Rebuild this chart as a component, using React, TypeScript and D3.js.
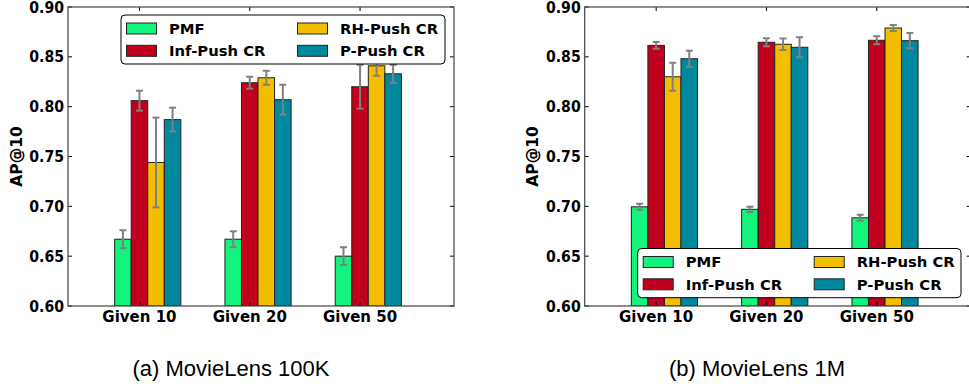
import React from "react";
import * as d3 from "d3";

const categories = ["Given 10", "Given 20", "Given 50"];
const seriesNames = ["PMF", "Inf-Push CR", "RH-Push CR", "P-Push CR"];
const seriesColors = ["#12f47c", "#c0001c", "#f4be00", "#00889f"];

// MovieLens 100K
const ml100kMeans = [
  [0.667, 0.667, 0.650],
  [0.806, 0.824, 0.820],
  [0.744, 0.829, 0.841],
  [0.787, 0.807, 0.833],
];
const ml100kErr = [
  [0.009, 0.008, 0.009],
  [0.010, 0.006, 0.022],
  [0.045, 0.007, 0.010],
  [0.012, 0.015, 0.009],
];
// MovieLens 1M
const ml1mMeans = [
  [0.6995, 0.697, 0.6885],
  [0.8615, 0.8646, 0.8666],
  [0.830, 0.8626, 0.8789],
  [0.8481, 0.8596, 0.8662],
];
const ml1mErr = [
  [0.003, 0.0027, 0.003],
  [0.0035, 0.004, 0.004],
  [0.014, 0.0057, 0.003],
  [0.008, 0.010, 0.0077],
];
const yTicks = [0.6, 0.65, 0.7, 0.75, 0.8, 0.85, 0.9];
const captions = ["(a) MovieLens 100K", "(b) MovieLens 1M"];

const BAR_W = 0.15;
const FONT = "'DejaVu Sans', sans-serif";

type PanelProps = {
  id: string;
  x0: number;
  x1: number;
  means: number[][];
  errs: number[][];
  legend: { x: number; y: number; w: number; h: number };
  ylabelX: number;
};

function Panel({ id, x0, x1, means, errs, legend, ylabelX }: PanelProps) {
  const y0 = 7;
  const y1 = 306;
  const x = d3.scaleLinear().domain([-0.423, 3.077]).range([x0, x1]);
  const y = d3.scaleLinear().domain([0.6, 0.9]).range([y1, y0]);
  const tickPos = categories.map((_, i) => i + 1.5 * BAR_W);
  const spine = "#444";
  const rowH = 22.3;
  return (
    <g>
      <defs>
        <clipPath id={`clip-${id}`}>
          <rect x={x0} y={y0} width={x1 - x0} height={y1 - y0} />
        </clipPath>
      </defs>
      <g clipPath={`url(#clip-${id})`}>
        {means.map((ser, s) =>
          ser.map((v, i) => (
            <rect
              key={`b${s}-${i}`}
              x={x(i + s * BAR_W)}
              y={y(v)}
              width={x(BAR_W) - x(0)}
              height={y(0.6) - y(v)}
              fill={seriesColors[s]}
              stroke="#222"
              strokeWidth={1}
            />
          ))
        )}
        {means.map((ser, s) =>
          ser.map((v, i) => {
            const cx = x(i + s * BAR_W + BAR_W / 2);
            const e = errs[s][i];
            return (
              <g key={`e${s}-${i}`} stroke="#808080" strokeWidth={2}>
                <line x1={cx} x2={cx} y1={y(v - e)} y2={y(v + e)} />
                <line x1={cx - 3.5} x2={cx + 3.5} y1={y(v - e)} y2={y(v - e)} />
                <line x1={cx - 3.5} x2={cx + 3.5} y1={y(v + e)} y2={y(v + e)} />
              </g>
            );
          })
        )}
      </g>
      {yTicks.map((t) => (
        <g key={`yt${t}`} stroke="#000" strokeWidth={1}>
          <line x1={x0} x2={x0 + 4} y1={y(t)} y2={y(t)} />
          <line x1={x1 - 4} x2={x1} y1={y(t)} y2={y(t)} />
        </g>
      ))}
      {tickPos.map((t, i) => (
        <g key={`xt${i}`} stroke="#000" strokeWidth={1}>
          <line x1={x(t)} x2={x(t)} y1={y1} y2={y1 - 4} />
          <line x1={x(t)} x2={x(t)} y1={y0} y2={y0 + 4} />
        </g>
      ))}
      <rect x={x0} y={y0} width={x1 - x0} height={y1 - y0} fill="none" stroke={spine} strokeWidth={1.2} />
      {yTicks.map((t) => (
        <text
          key={`yl${t}`}
          transform={`translate(${x0 - 4},${y(t) + 5.5}) scale(0.94,1)`}
          textAnchor="end"
          fontFamily={FONT}
          fontWeight="bold"
          fontSize={15}
          fill="#000"
        >
          {d3.format(".2f")(t)}
        </text>
      ))}
      {categories.map((c, i) => (
        <text key={`xl${i}`} x={x(tickPos[i])} y={322} textAnchor="middle" fontFamily={FONT} fontWeight="bold" fontSize={15} fill="#000">
          {c}
        </text>
      ))}
      <text
        transform={`translate(${ylabelX},${(y0 + y1) / 2}) rotate(-90)`}
        textAnchor="middle"
        fontFamily={FONT}
        fontWeight="bold"
        fontSize={15.5}
        fill="#000"
      >
        AP@10
      </text>
      <g>
        <rect x={legend.x} y={legend.y} width={legend.w} height={legend.h} rx={4} fill="#fff" stroke="#000" strokeWidth={1} />
        {seriesNames.map((n, s) => {
          const col = s === 0 || s === 1 ? 0 : 1;
          const row = s === 0 || s === 2 ? 0 : 1;
          const px = legend.x + 5.5 + col * 171;
          const cy = legend.y + 13.5 + row * rowH;
          return (
            <g key={`lg${s}`}>
              <rect x={px} y={cy - 5.5} width={30} height={11} fill={seriesColors[s]} stroke="#222" strokeWidth={1} />
              <text x={px + 42.5} y={cy + 5.3} fontFamily={FONT} fontWeight="bold" fontSize={14.8} fill="#000">
                {n}
              </text>
            </g>
          );
        })}
      </g>
    </g>
  );
}

export default function App() {
  return (
    <svg width={969} height={392} style={{ position: "absolute", left: 0, top: 0, background: "#fff" }}>
      <rect x={0} y={0} width={969} height={392} fill="#fff" />
      <Panel
        id="a"
        x0={68}
        x1={454}
        means={ml100kMeans}
        errs={ml100kErr}
        legend={{ x: 121, y: 15, w: 324, h: 49 }}
        ylabelX={22}
      />
      <Panel
        id="b"
        x0={584.7}
        x1={970.7}
        means={ml1mMeans}
        errs={ml1mErr}
        legend={{ x: 637.7, y: 248.5, w: 323.3, h: 49.2 }}
        ylabelX={538}
      />
      <text x={231} y={376} textAnchor="middle" fontFamily="'Liberation Sans', Arial, sans-serif" fontSize={22} fill="#000">
        {captions[0]}
      </text>
      <text x={757} y={376} textAnchor="middle" fontFamily="'Liberation Sans', Arial, sans-serif" fontSize={22} fill="#000">
        {captions[1]}
      </text>
    </svg>
  );
}
